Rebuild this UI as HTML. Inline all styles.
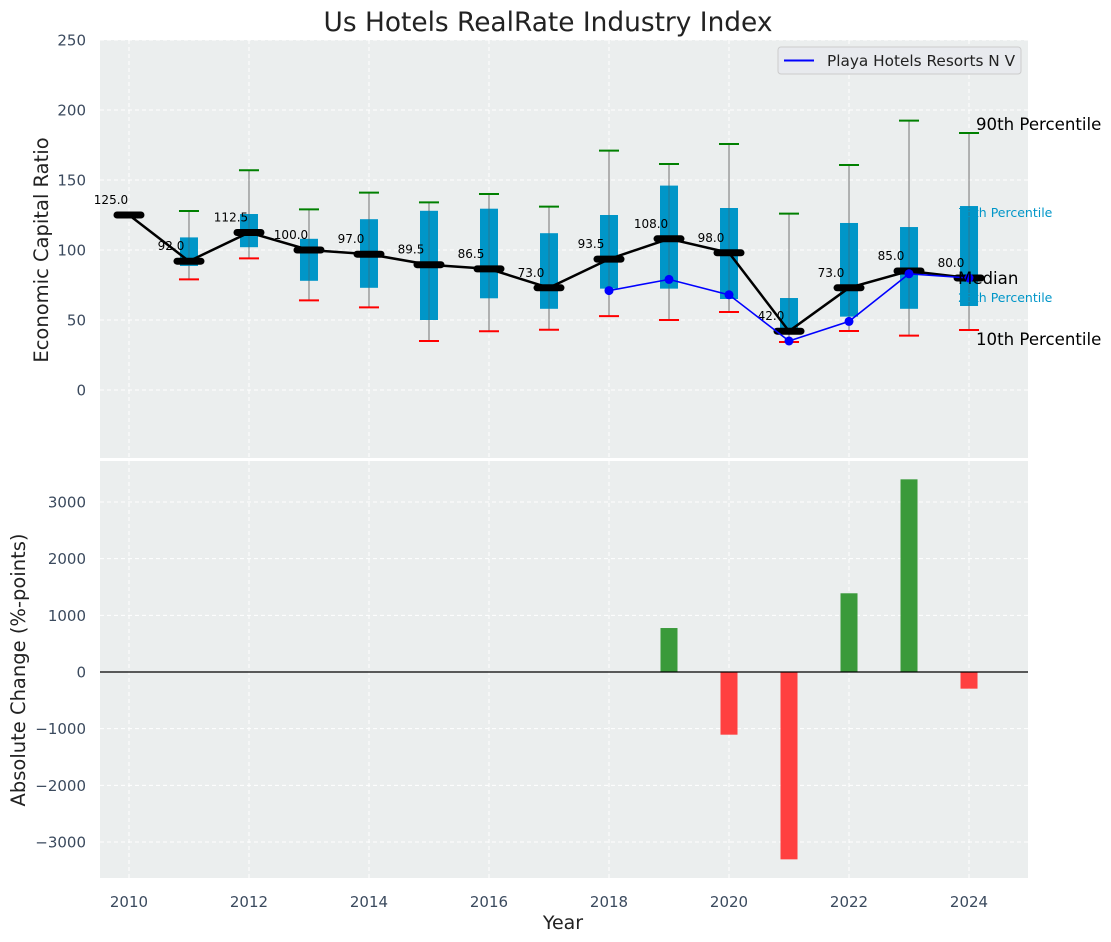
<!DOCTYPE html>
<html><head><meta charset="utf-8"><style>
body{margin:0;background:#fff;}
svg{display:block;font-family:"DejaVu Sans","Liberation Sans",sans-serif;}
</style></head><body>
<svg id="c" width="1111" height="942"></svg>
<script>
const years=[2010,2011,2012,2013,2014,2015,2016,2017,2018,2019,2020,2021,2022,2023,2024];
const medians=[125,92,112.5,100,97,89.5,86.5,73,93.5,108,98,42,73,85,80];
const q25=[null,88.6,102,78,73,50,65.5,58,72.4,72.4,65,42,52.4,58,60];
const q75=[null,109,125.7,108,122,128,129.5,112,125,146,130,65.7,119.3,116.4,131.4];
const p10=[null,79,94,64,59,35,42,43,52.8,50,55.7,34.3,42.1,38.8,42.9];
const p90=[null,127.9,157,129,141,134,140,131,171,161.4,175.7,126,160.7,192.4,183.6];
const companyYears=[2018,2019,2020,2021,2022,2023,2024];
const companyVals=[71,79,68,35,49,83,80];
const changeYears=[2019,2020,2021,2022,2023,2024];
const changeVals=[776,-1106,-3306,1389,3400,-294];
const topTicks=[0,50,100,150,200,250];
const botTicks=[-3000,-2000,-1000,0,1000,2000,3000];
const xTicks=[2010,2012,2014,2016,2018,2020,2022,2024];

const NS="http://www.w3.org/2000/svg";
const svg=document.getElementById('c');
function el(t,a,p){const e=document.createElementNS(NS,t);for(const k in a)e.setAttribute(k,a[k]);(p||svg).appendChild(e);return e;}
const L=100,R=1028;
const X=v=>L+(v-2009.517)/(2024.983-2009.517)*(R-L);
const T0=40,T1=458,B0=461,B1=878;
const YT=v=>390-v*1.4;
const YB=v=>672-v*(170/3000);
const tick="#3b4a5e";

function axes(y0,y1,ticks,Y,fmt,name){
  const g=el('g',{});
  
  
  el('rect',{x:L,y:y0,width:R-L,height:y1-y0,fill:'#ebeeee'},g);
  xTicks.forEach(t=>el('line',{x1:X(t),x2:X(t),y1:y0,y2:y1,stroke:'#fff','stroke-dasharray':'4,3','stroke-width':1},g));
  ticks.forEach(t=>{const y=Y(t);if(y<y0-1||y>y1+1)return;
    el('line',{x1:L,x2:R,y1:y,y2:y,stroke:'#fff','stroke-dasharray':'4,3','stroke-width':1},g);
    const tx=el('text',{x:L-14,y:y+5.5,'text-anchor':'end','font-size':15,fill:tick},g);tx.textContent=fmt(t);
    });
}
axes(T0,T1,topTicks,YT,t=>String(t),'top-axes');
axes(B0,B1,botTicks,YB,t=>t<0?'\u2212'+(-t):String(t),'bottom-axes');

years.forEach((yr,i)=>{
  const x=X(yr);
  if(q25[i]!=null){
    const w=el('line',{x1:x,x2:x,y1:YT(p90[i]),y2:YT(p10[i]),stroke:'#888','stroke-width':1.2});
    
    const b=el('rect',{x:x-9,y:YT(q75[i]),width:18,height:YT(q25[i])-YT(q75[i]),fill:'#0096c8'});
    
    el('line',{x1:x,x2:x,y1:YT(q75[i]),y2:YT(q25[i]),stroke:'#555','stroke-width':0.8,opacity:0.6});
    const c1=el('line',{x1:x-10,x2:x+10,y1:YT(p90[i]),y2:YT(p90[i]),stroke:'green','stroke-width':2});
    
    const c2=el('line',{x1:x-10,x2:x+10,y1:YT(p10[i]),y2:YT(p10[i]),stroke:'red','stroke-width':2});
    
  }
});
const mp=el('polyline',{points:years.map((y,i)=>X(y)+','+YT(medians[i])).join(' '),fill:'none',stroke:'#000','stroke-width':2.5});

years.forEach((yr,i)=>{
  const x=X(yr),y=YT(medians[i]);
  const m=el('line',{x1:x-12,x2:x+12,y1:y,y2:y,stroke:'#000','stroke-width':7,'stroke-linecap':'round'});
  
  const t=el('text',{x:x-18,y:y-11,'font-size':12,'text-anchor':'middle',fill:'#000'});
  t.textContent=medians[i].toFixed(1);
  
});
const cp=el('polyline',{points:companyYears.map((y,i)=>X(y)+','+YT(companyVals[i])).join(' '),fill:'none',stroke:'blue','stroke-width':1.6});

companyYears.forEach((yr,i)=>{const c=el('circle',{cx:X(yr),cy:YT(companyVals[i]),r:4.5,fill:'blue'});
  });

function txt(x,y,s,size,fill,name){const t=el('text',{x:x,y:y,'font-size':size,fill:fill});t.textContent=s;
  return t;}
txt(976,130,'90th Percentile',16.6,'#000','p90-annotation');
txt(958,217,'75th Percentile',12.5,'#0096c8','p75-annotation');
txt(958,284,'Median',16.6,'#000','median-annotation');
txt(958,302,'25th Percentile',12.5,'#0096c8','p25-annotation');
txt(976,345,'10th Percentile',16.6,'#000','p10-annotation');

const lg=el('g',{});
el('rect',{x:778,y:47,width:243,height:27,rx:3,fill:'#e8eaee',stroke:'#ccc'},lg);
el('line',{x1:784,x2:814,y1:60.5,y2:60.5,stroke:'blue','stroke-width':2},lg);
const lt=el('text',{x:827,y:66,'font-size':15.3,fill:'#222'},lg);lt.textContent='Playa Hotels Resorts N V';

changeYears.forEach((yr,i)=>{
  const v=changeVals[i],x=X(yr);
  const b=el('rect',{x:x-8.5,y:Math.min(YB(v),YB(0)),width:17,height:Math.abs(YB(v)-YB(0)),fill:v>=0?'#3a9a3a':'#ff4040'});
  
});
const z=el('line',{x1:L,x2:R,y1:YB(0),y2:YB(0),stroke:'#000','stroke-width':1.2});


xTicks.forEach(t=>{const s=txt(X(t),907,String(t),15,tick,'x-tick-label');s.setAttribute('text-anchor','middle');});
const xl=txt(563,929,'Year',19,'#222','x-axis-title');xl.setAttribute('text-anchor','middle');
const y1=txt(0,0,'Economic Capital Ratio',19.5,'#222','top-y-axis-title');y1.setAttribute('text-anchor','middle');y1.setAttribute('transform','translate(48,250) rotate(-90)');
const y2=txt(0,0,'Absolute Change (%-points)',19.5,'#222','bottom-y-axis-title');y2.setAttribute('text-anchor','middle');y2.setAttribute('transform','translate(25,670) rotate(-90)');
const ti=txt(548,31,'Us Hotels RealRate Industry Index',26.4,'#222','chart-title');ti.setAttribute('text-anchor','middle');
</script>
</body></html>
